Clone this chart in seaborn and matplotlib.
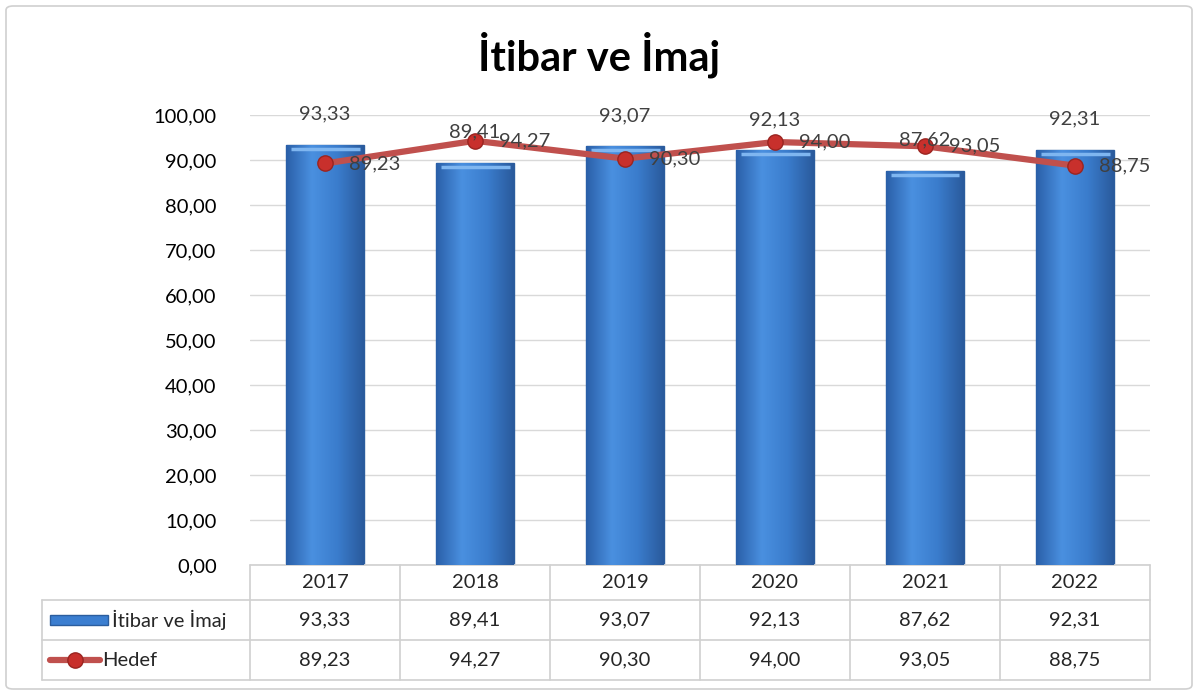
import numpy as np
import pandas as pd
import matplotlib
matplotlib.use("Agg")
import matplotlib.pyplot as plt
from matplotlib.patches import FancyBboxPatch, Rectangle
from matplotlib.lines import Line2D
from matplotlib.colors import LinearSegmentedColormap
import seaborn as sns

years = ["2017", "2018", "2019", "2020", "2021", "2022"]
itibar = [93.33, 89.41, 93.07, 92.13, 87.62, 92.31]
hedef = [89.23, 94.27, 90.30, 94.00, 93.05, 88.75]
series_names = ["İtibar ve İmaj", "Hedef"]
title = "İtibar ve İmaj"


def tr(v):
    # Türkçe ondalık ayırıcı
    return f"{v:.2f}".replace(".", ",")


sns.set_style("white")
plt.rcParams["font.family"] = ["Lato", "DejaVu Sans"]
FS = 14.5

df = pd.DataFrame({"yil": years, "itibar": itibar, "hedef": hedef})

fig = plt.figure(figsize=(11.98, 6.95), dpi=100)
ax = fig.add_axes([250 / 1198, 1 - 565 / 695, 900 / 1198, 450 / 695])

# dış çerçeve
fig.patches.append(FancyBboxPatch((6 / 1198, 6 / 695), 1186 / 1198, 683 / 695,
                                  boxstyle="round,pad=0,rounding_size=0.006",
                                  transform=fig.transFigure, fill=False,
                                  edgecolor="#d0d0d0", linewidth=1.2))

sns.barplot(data=df, x="yil", y="itibar", ax=ax, width=0.52, color="#3b7ed0",
            edgecolor="#2b5d9e", linewidth=1.0, zorder=2)

# bar gradyanı
grad = np.linspace(0, 1, 256).reshape(1, -1)
grad = np.vstack([grad, grad])
cmap = LinearSegmentedColormap.from_list("b", ["#2a5fa8", "#4a90e0", "#3a7ccc", "#2a5a9c"])
for p in ax.patches:
    x0, y0, w, h = p.get_x(), p.get_y(), p.get_width(), p.get_height()
    im = ax.imshow(grad, extent=[x0, x0 + w, y0, y0 + h], aspect="auto",
                   cmap=cmap, zorder=2.1)
    im.set_clip_path(p)
    ax.plot([x0 + 0.03, x0 + w - 0.03], [y0 + h - 0.9, y0 + h - 0.9],
            color="#7fb6f0", lw=2.5, zorder=2.2, solid_capstyle="butt")

sns.lineplot(x=np.arange(len(years)), y=hedef, ax=ax, color="#c0504d", lw=4.5,
             marker="o", markersize=11, markerfacecolor="#c8302c",
             markeredgecolor="#9a2420", markeredgewidth=1, zorder=4)

for i, v in enumerate(itibar):
    ax.annotate(tr(v), (i, v), xytext=(0, 16), textcoords="offset points",
                ha="center", va="bottom", fontsize=FS, color="#404040", zorder=5)
for i, v in enumerate(hedef):
    ax.annotate(tr(v), (i, v), xytext=(17, 0), textcoords="offset points",
                ha="left", va="center", fontsize=FS, color="#404040", zorder=5)

ax.set_xlim(-0.5, len(years) - 0.5)
ax.set_ylim(0, 100)
ax.set_yticks(np.arange(0, 101, 10))
ax.set_yticklabels([tr(t) for t in np.arange(0, 101, 10)], fontsize=FS, color="#000000")
ax.tick_params(axis="y", length=0, pad=24)
ax.set_xticks([])
ax.set_xlabel("")
ax.set_ylabel("")
ax.grid(axis="y", color="#d9d9d9", lw=1.0, zorder=0)
ax.set_axisbelow(True)
for s in ax.spines.values():
    s.set_visible(False)

fig.text(0.5, 1 - 55 / 695, title, ha="center", va="center", fontsize=30,
         fontweight="bold", color="#000000")

# veri tablosu
tab = ax.get_xaxis_transform()
row_h = 40 / 450
r0 = 0
r1 = -35 / 450
r2 = r1 - row_h
r3 = r2 - row_h
xl = -0.5 - (250 - 42) / 150
lc = "#d0d0d0"
ax.plot([-0.5, 5.5], [r0, r0], color=lc, lw=1.2, transform=tab, clip_on=False)
for y in [r1, r2, r3]:
    ax.plot([xl, 5.5], [y, y], color=lc, lw=1.2, transform=tab, clip_on=False)
for k in range(7):
    ax.plot([k - 0.5, k - 0.5], [r0, r3], color=lc, lw=1.2, transform=tab, clip_on=False)
ax.plot([xl, xl], [r1, r3], color=lc, lw=1.2, transform=tab, clip_on=False)

for i, yl in enumerate(years):
    ax.text(i, (r0 + r1) / 2, yl, transform=tab, ha="center", va="center", fontsize=FS)
    ax.text(i, (r1 + r2) / 2, tr(itibar[i]), transform=tab, ha="center", va="center", fontsize=FS)
    ax.text(i, (r2 + r3) / 2, tr(hedef[i]), transform=tab, ha="center", va="center", fontsize=FS)

# tablo içi lejant
ix = xl + 8 / 150
bar_icon = Rectangle((ix, (r1 + r2) / 2 - 0.012), 58 / 150, 0.024, transform=tab,
                     facecolor="#3b7ed0", edgecolor="#2b5d9e", lw=1, clip_on=False)
ax.add_patch(bar_icon)
ax.text(ix + 62 / 150, (r1 + r2) / 2, series_names[0], transform=tab, ha="left",
        va="center", fontsize=FS)
ax.add_line(Line2D([ix, ix + 50 / 150], [(r2 + r3) / 2] * 2, transform=tab, color="#c0504d",
                   lw=4.5, clip_on=False))
ax.plot([ix + 25 / 150], [(r2 + r3) / 2], transform=tab, marker="o", markersize=11,
        markerfacecolor="#c8302c", markeredgecolor="#9a2420", clip_on=False)
ax.text(ix + 52 / 150, (r2 + r3) / 2, series_names[1], transform=tab, ha="left",
        va="center", fontsize=FS)

fig.savefig("out.png", dpi=100)
